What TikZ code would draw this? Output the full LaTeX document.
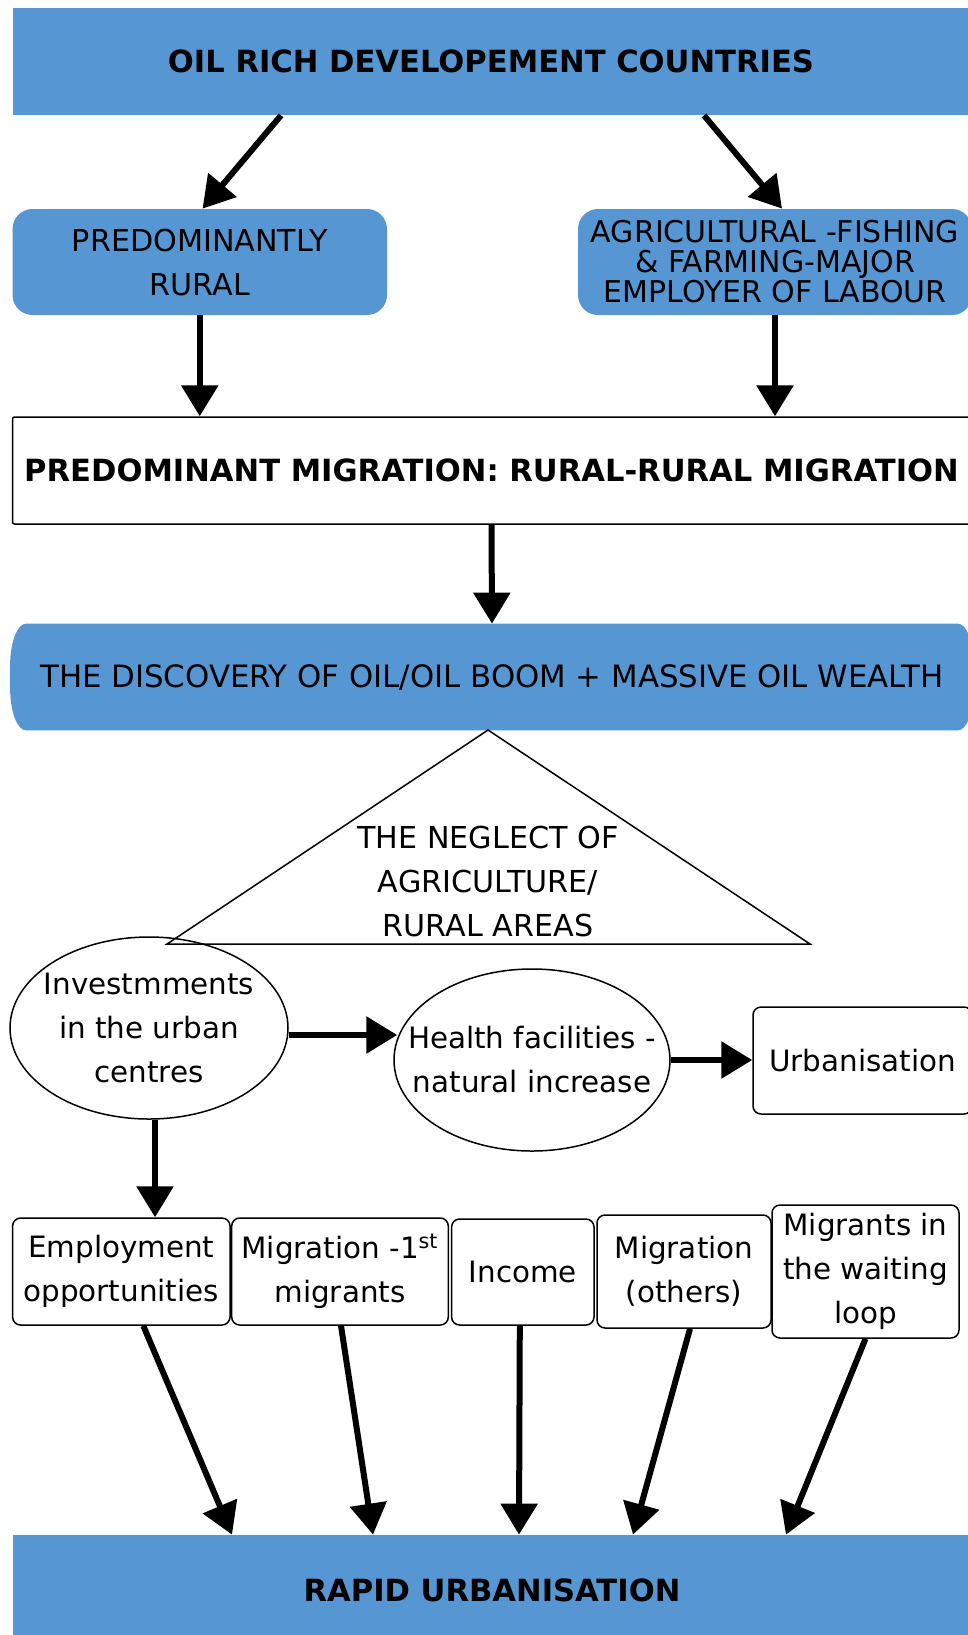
\documentclass[tikz,border=0pt]{standalone}
\usepackage{fontspec}
\setmainfont{DejaVu Sans}
\usepackage{tikz}
\usetikzlibrary{arrows.meta,shapes.geometric,backgrounds}
\definecolor{oilblue}{RGB}{86,150,210}

\begin{document}
\begin{tikzpicture}[x=0.5pt, y=0.5pt,
  bluebox/.style={fill=oilblue, align=center, inner sep=0pt},
  whitebox/.style={draw, line width=0.75pt, align=center, inner sep=0pt},
  oval/.style={ellipse, draw, line width=0.75pt, align=center, inner sep=-25pt},
  bigarrow/.style={line width=3pt, -{Triangle[length=15.5pt,width=18pt]}},
  txt/.style={font=\fontsize{14.7}{22}\selectfont},
  capstxt/.style={font=\fontsize{15.1}{22}\selectfont},
  boldtxt/.style={font=\fontsize{15.3}{22}\selectfont\bfseries}]

  \clip (0,0) rectangle (968,-1635);

  % top of the chain
  \node[bluebox, boldtxt, minimum width=478.5pt, minimum height=53.5pt] (top) at (491,-61.5) {OIL RICH DEVELOPEMENT COUNTRIES};
  \node[bluebox, capstxt, rounded corners=10pt, minimum width=187.25pt, minimum height=53pt] (rural) at (199.75,-262) {PREDOMINANTLY\\RURAL};
  \node[bluebox, font=\fontsize{15}{15}\selectfont, rounded corners=10pt, minimum width=197pt, minimum height=53pt] (agri) at (775,-262) {AGRICULTURAL -FISHING\\\& FARMING-MAJOR\\EMPLOYER OF LABOUR};

  \draw[bigarrow] ([xshift=-105pt]top.south) -- ([xshift=1.4pt]rural.north);
  \draw[bigarrow] ([xshift=106.5pt]top.south) -- ([xshift=3.5pt]agri.north);

  \node[whitebox, boldtxt, rounded corners=1pt, minimum width=479pt, minimum height=53.5pt] (mig) at (491.5,-470.5) {PREDOMINANT MIGRATION: RURAL-RURAL MIGRATION};

  \draw[bigarrow] (rural.south) -- (rural.south |- mig.north);
  \draw[bigarrow] (agri.south) -- (agri.south |- mig.north);

  \node[font=\fontsize{15.4}{22}\selectfont, align=center, inner sep=0pt, minimum width=481.5pt, minimum height=53pt] (disc) at (492,-677) {THE DISCOVERY OF OIL/OIL BOOM + MASSIVE OIL WEALTH};
  \begin{scope}[on background layer]
    \fill[oilblue] ([xshift=8pt]disc.north west) -- ([xshift=-8pt]disc.north east)
      arc[start angle=90, end angle=0, x radius=8pt, y radius=21pt] -- ([yshift=21pt]disc.south east)
      arc[start angle=0, end angle=-90, x radius=8pt, y radius=21pt] -- ([xshift=8pt]disc.south west)
      arc[start angle=270, end angle=180, x radius=8pt, y radius=21pt] -- ([yshift=-21pt]disc.north west)
      arc[start angle=180, end angle=90, x radius=8pt, y radius=21pt] -- cycle;
  \end{scope}

  \draw[bigarrow] (mig.south) -- (disc.north);

  % the neglect
  \draw[line width=0.75pt] (488,-730) -- (810,-944) -- (167,-944) -- cycle;
  \node[capstxt, align=center] (neglect) at (488,-881) {THE NEGLECT OF\\AGRICULTURE/\\RURAL AREAS};

  \node[oval, txt, minimum width=139pt, minimum height=91pt] (inv) at (149,-1028) {Investmments\\in the urban\\centres};
  \node[oval, txt, minimum width=138pt, minimum height=91pt] (health) at (532,-1060) {Health facilities -\\natural increase};
  \node[whitebox, txt, rounded corners=4pt, minimum width=109.5pt, minimum height=53.5pt] (urb) at (862.5,-1060.5) {Urbanisation};

  \draw[bigarrow, shorten >=-2pt] ([yshift=-3.5pt]inv.east) -- ([yshift=-3.5pt]inv.east -| health.west);
  \draw[bigarrow] (health.east) -- (health.east -| urb.west);

  % second row
  \node[whitebox, txt, rounded corners=4pt, minimum width=108.7pt, minimum height=53.5pt] (emp) at (121.3,-1271.5) {Employment\\opportunities};
  \node[whitebox, txt, rounded corners=4pt, minimum width=108.3pt, minimum height=53.5pt] (mig1) at (340,-1271.5) {Migration -1\textsuperscript{st}\\migrants};
  \node[whitebox, txt, rounded corners=4pt, minimum width=71.2pt, minimum height=53pt] (inc) at (522.8,-1272) {Income};
  \node[whitebox, txt, rounded corners=4pt, minimum width=87pt, minimum height=56.5pt] (migo) at (684,-1271.5) {Migration\\(others)};
  \node[whitebox, txt, rounded corners=4pt, minimum width=93.5pt, minimum height=66.5pt] (wait) at (865.5,-1271.5) {Migrants in\\the waiting\\loop};

  \draw[bigarrow] ([xshift=3pt]inv.south) -- ([xshift=3pt]inv.south |- emp.north);

  \node[bluebox, boldtxt, minimum width=479.5pt, minimum height=55pt] (rapid) at (492,-1590) {RAPID URBANISATION};

  \draw[bigarrow] ([xshift=11pt]emp.south) -- ([xshift=-130pt]rapid.north);
  \draw[bigarrow] ([xshift=0.5pt]mig1.south) -- ([xshift=-59.5pt]rapid.north);
  \draw[bigarrow] ([xshift=-1.5pt]inc.south) -- ([xshift=13.5pt]rapid.north);
  \draw[bigarrow] ([xshift=3pt]migo.south) -- ([xshift=70.5pt]rapid.north);
  \draw[bigarrow] (wait.south) -- ([xshift=147pt]rapid.north);
\end{tikzpicture}
\end{document}
